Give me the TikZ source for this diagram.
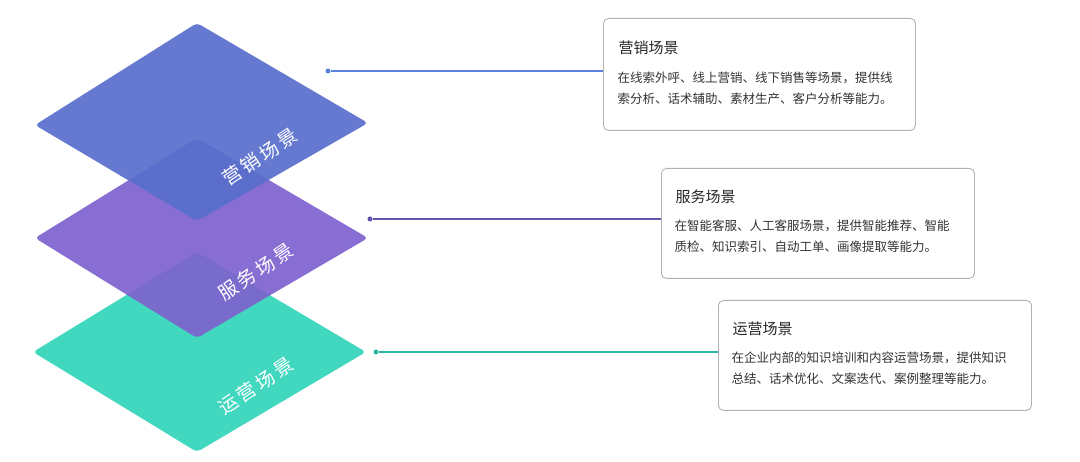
\documentclass[tikz,border=0pt]{standalone}
\usepackage{fontspec}
\setmainfont{Noto Sans CJK SC}
\definecolor{cTeal}{RGB}{50,212,186}
\definecolor{cPur}{RGB}{126,98,206}
\definecolor{cBlue}{RGB}{88,110,204}
\definecolor{lBlue}{RGB}{90,130,220}
\definecolor{lPur}{RGB}{95,85,175}
\definecolor{lTeal}{RGB}{40,185,160}
\begin{document}
\begin{tikzpicture}[x=1pt,y=-1pt,
  layer/.style={rounded corners=4pt, fill opacity=0.92, draw=none},
  lbl/.style={text=white, font=\fontsize{19}{19}\selectfont, rotate=34},
  card/.style={draw=black!30, rounded corners=5pt, fill=white, line width=0.9pt},
  ttl/.style={anchor=west, font=\fontsize{15}{15}\selectfont, text=black!85},
  body/.style={anchor=north west, align=left, font=\fontsize{12.5}{21}\selectfont, text=black!80},
  dotc/.style={circle, inner sep=0pt, minimum size=5pt},
  conn/.style={line width=1.5pt}]
\useasboundingbox (0,0) rectangle (1080,462);
% layers
\fill[layer, fill=cTeal] (197,252) -- (366,352) -- (197,452) -- (33,352) -- cycle;
\fill[layer, fill=cPur] (197,138) -- (368,238) -- (197,338) -- (35,238) -- cycle;
\fill[layer, fill=cBlue] (197,23) -- (368,123) -- (197,221) -- (35,125) -- cycle;
\node[lbl] (l1) at (260,157) {营\,销\,场\,景};
\node[lbl] (l2) at (256,272) {服\,务\,场\,景};
\node[lbl] (l3) at (256,386) {运\,营\,场\,景};
% cards
\node[card, minimum width=312pt, minimum height=112pt, anchor=north west] (c1) at (603,18) {};
\node[card, minimum width=313pt, minimum height=110pt, anchor=north west] (c2) at (661,168) {};
\node[card, minimum width=313pt, minimum height=110pt, anchor=north west] (c3) at (718,300) {};
\node[ttl] (t1) at (615,48) {营销场景};
\node[body] (b1) at (614,68) {在线索外呼、线上营销、线下销售等场景，提供线\\索分析、话术辅助、素材生产、客户分析等能力。};
\node[ttl] (t2) at (672,197) {服务场景};
\node[body] (b2) at (671,216) {在智能客服、人工客服场景，提供智能推荐、智能\\质检、知识索引、自动工单、画像提取等能力。};
\node[ttl] (t3) at (729,329) {运营场景};
\node[body] (b3) at (728,348) {在企业内部的知识培训和内容运营场景，提供知识\\总结、话术优化、文案迭代、案例整理等能力。};
% connectors
\node[dotc, fill=lBlue] (d1) at (328,71) {};
\node[dotc, fill=lPur] (d2) at (370,219) {};
\node[dotc, fill=lTeal] (d3) at (376,352) {};
\draw[conn, draw=lBlue] (d1) -- (d1 -| c1.west);
\draw[conn, draw=lPur] (d2) -- (d2 -| c2.west);
\draw[conn, draw=lTeal] (d3) -- (d3 -| c3.west);
\end{tikzpicture}
\end{document}
